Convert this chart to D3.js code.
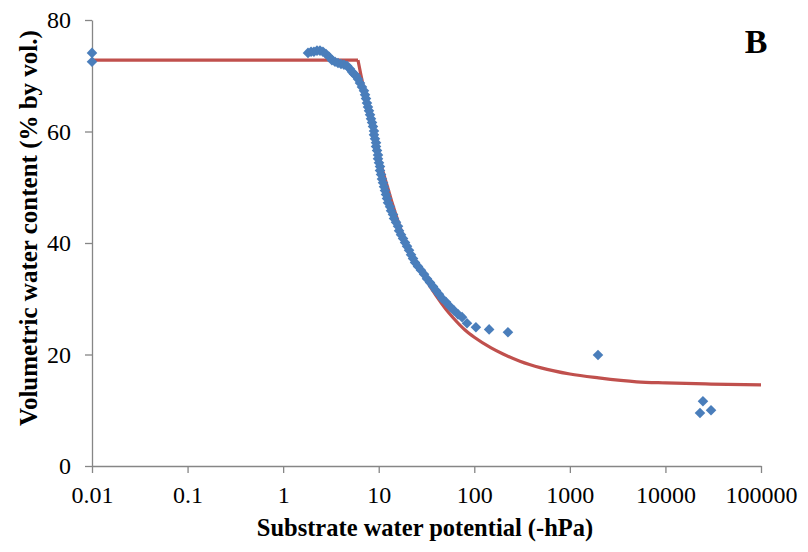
<!DOCTYPE html>
<html>
<head>
<meta charset="utf-8">
<script src="https://cdn.jsdelivr.net/npm/d3@7"></script>
<style>
    body { margin: 0; background: #fff; }
    #chart text { font-family: "Liberation Serif", "Times New Roman", serif; fill: #000; }
</style>
</head>
<body>
<div id="chart"></div>
<script>
// measured points (potential in -hPa, water content in % by vol.)
var potential = [0.01, 0.01,
    1.82, 1.96, 2.10, 2.26, 2.43, 2.61, 2.81, 3.02, 3.24, 3.49, 3.75, 4.03, 4.33, 4.66,
    5.01, 5.25, 5.51, 5.78, 6.07, 6.37, 6.68, 7.01, 7.19, 7.36, 7.54, 7.72, 7.91, 8.11,
    8.30, 8.51, 8.71, 8.92, 8.92, 9.14, 9.37, 9.37, 9.60, 9.83, 9.83, 10.07, 10.31, 10.31,
    10.57, 10.82, 11.09, 11.36, 11.63, 11.92, 12.21, 12.51, 13.13, 13.45, 14.11, 14.45,
    15.17, 15.92, 16.31, 17.12, 17.96, 18.85, 19.78, 20.75, 21.78, 22.85, 23.98, 25.77,
    27.7, 29.8, 32.0, 34.4, 37.0, 39.7, 42.7, 45.9, 50.6, 55.7, 61.4, 67.6, 74.5,
    83.9, 104, 143, 225, 1970, 24700, 23000, 30000];

var content = [74.1, 72.5,
    74.1, 74.3, 74.3, 74.5, 74.5, 74.3, 73.9, 73.4, 72.8, 72.5, 72.3, 72.1, 72.0, 71.8,
    71.2, 70.7, 70.3, 70.0, 69.4, 68.7, 68.0, 67.3, 66.6, 65.9, 65.1, 64.4, 63.7, 63.0,
    62.3, 61.6, 60.9, 60.1, 59.4, 58.7, 58.0, 57.3, 56.6, 55.8, 55.1, 54.4, 53.7, 53.0,
    52.3, 51.5, 50.8, 50.1, 49.4, 48.7, 48.0, 47.2, 46.5, 45.8, 45.1, 44.4,
    43.7, 43.0, 42.2, 41.5, 40.8, 40.1, 39.4, 38.7, 37.9, 37.2, 36.5, 35.8,
    35.1, 34.4, 33.6, 32.9, 32.2, 31.5, 30.8, 30.1, 29.4, 28.6, 27.9, 27.2, 26.7,
    25.6, 24.9, 24.5, 24.0, 19.9, 11.6, 9.5, 10.0];

// fitted retention curve
var fitPotential = [0.01, 6.07, 6.5, 7, 8, 9, 10, 11, 12.5, 14, 16, 18, 20, 25, 30, 40, 50, 60,
    80, 100, 150, 200, 300, 500, 1000, 2000, 5000, 10000, 30000, 100000];
var fitContent = [72.8, 72.8, 70.2, 67.6, 63.2, 59.2, 55.8, 53.0, 49.8, 46.9, 43.8, 41.3, 39.5,
    36.3, 33.9, 30.5, 28.2, 26.6, 24.4, 23.1, 21.2, 20.1, 18.8, 17.6, 16.5, 15.8, 15.1,
    14.9, 14.7, 14.55];

var xTicks = [0.01, 0.1, 1, 10, 100, 1000, 10000, 100000];
var xTickLabels = ['0.01', '0.1', '1', '10', '100', '1000', '10000', '100000'];
var yTicks = [0, 20, 40, 60, 80];

var margin = {
    top: 20,
    right: 47,
    bottom: 86,
    left: 92
};

var svg = d3.select('#chart')
    .append('svg')
    .attr('width', 808)
    .attr('height', 552);

var width = +svg.attr('width') - margin.left - margin.right,
    height = +svg.attr('height') - margin.top - margin.bottom;

var g = svg.append('g')
    .attr('transform', 'translate(' + margin.left + ',' + margin.top + ')');

var x = d3.scaleLog()
    .domain([0.01, 100000])
    .range([0, width]);

var y = d3.scaleLinear()
    .domain([0, 80])
    .range([height, 0]);

var axisColor = '#868686';

// x axis
var gx = g.append('g')
    .attr('transform', 'translate(0,' + height + ')')
    .call(d3.axisBottom(x)
        .tickValues(xTicks)
        .tickFormat(function (d, i) { return xTickLabels[i]; })
        .tickSizeInner(7)
        .tickSizeOuter(0));
gx.selectAll('text')
    .attr('y', 20)
    .attr('font-size', 24);

// y axis
var gy = g.append('g')
    .call(d3.axisLeft(y)
        .tickValues(yTicks)
        .tickSizeInner(7)
        .tickSizeOuter(0)
        .tickPadding(14));
gy.selectAll('text')
    .attr('font-size', 24);

g.selectAll('.domain, .tick line')
    .attr('stroke', axisColor)
    .attr('stroke-width', 1.3);

// fitted curve: flat part, then the smooth drop
var fit = fitPotential.map(function (d, i) {
    return [d, fitContent[i]];
});

var line = d3.line()
    .x(function (d) { return x(d[0]); })
    .y(function (d) { return y(d[1]); });

g.append('path')
    .datum(fit.slice(0, 2))
    .attr('fill', 'none')
    .attr('stroke', '#C0504D')
    .attr('stroke-width', 3.2)
    .attr('d', line);

g.append('path')
    .datum(fit.slice(1))
    .attr('fill', 'none')
    .attr('stroke', '#C0504D')
    .attr('stroke-width', 3.2)
    .attr('d', line.curve(d3.curveMonotoneX));

// measured points as diamonds
var diamond = d3.symbol().type(d3.symbolSquare).size(56);

g.append('g')
    .selectAll('path')
    .data(potential)
    .enter()
    .append('path')
    .attr('d', diamond)
    .attr('fill', '#4A7EBB')
    .attr('transform', function (d, i) {
        return 'translate(' + x(d) + ',' + y(content[i]) + ') rotate(45)';
    });

// axis titles
svg.append('text')
    .attr('x', 425)
    .attr('y', 536)
    .attr('text-anchor', 'middle')
    .attr('font-size', 24.5)
    .attr('font-weight', 'bold')
    .text('Substrate water potential (-hPa)');

svg.append('text')
    .attr('transform', 'translate(37,' + 228 + ') rotate(-90)')
    .attr('text-anchor', 'middle')
    .attr('font-size', 25)
    .attr('font-weight', 'bold')
    .text('Volumetric water content (% by vol.)');

// panel letter
svg.append('text')
    .attr('x', 756)
    .attr('y', 53)
    .attr('text-anchor', 'middle')
    .attr('font-size', 34)
    .attr('font-weight', 'bold')
    .text('B');
</script>
</body>
</html>
